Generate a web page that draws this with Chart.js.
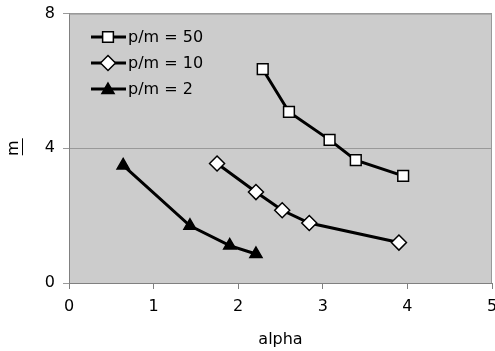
<!DOCTYPE html>
<html>
<head>
<meta charset="utf-8">
<script src="https://cdn.jsdelivr.net/npm/chart.js@4.4.0/dist/chart.umd.min.js"></script>
<style>
  html, body { margin: 0; padding: 0; background: #fff; }
  #wrap { width: 495px; height: 351px; overflow: hidden; position: relative; }
  #chart { position: absolute; left: 0; top: -4px; }
</style>
</head>
<body>
<div id="wrap"><canvas id="chart" width="512" height="355"></canvas></div>
<script>
// series labels
const seriesNames = ['p/m = 50', 'p/m = 10', 'p/m = 2'];

// p/m = 50 (squares)
const alpha50 = [2.29, 2.60, 3.08, 3.39, 3.95];
const m50 = [6.35, 5.08, 4.25, 3.65, 3.18];

// p/m = 10 (diamonds)
const alpha10 = [1.75, 2.21, 2.52, 2.84, 3.90];
const m10 = [3.55, 2.70, 2.16, 1.78, 1.20];

// p/m = 2 (triangles)
const alpha2 = [0.64, 1.43, 1.90, 2.21];
const m2 = [3.49, 1.70, 1.11, 0.86];

// axis ticks
const xTicks = [0, 1, 2, 3, 4, 5];
const yTicks = [0, 4, 8];

const FONT = 'DejaVu Sans, Verdana, sans-serif';

function toPoints(xs, ys) {
    return xs.map((x, i) => ({ x: x, y: ys[i] }));
}

const markerStyles = [
    { pointStyle: 'rect', radius: 7.6, fill: '#ffffff' },
    { pointStyle: 'rectRot', radius: 7.5, fill: '#ffffff' },
    { pointStyle: 'triangle', radius: 7, fill: '#000000' }
];

const seriesData = [toPoints(alpha50, m50), toPoints(alpha10, m10), toPoints(alpha2, m2)];

const datasets = seriesData.map((pts, i) => ({
    label: seriesNames[i],
    data: pts,
    showLine: true,
    borderColor: '#000000',
    borderWidth: 3,
    pointStyle: markerStyles[i].pointStyle,
    pointRadius: markerStyles[i].radius,
    pointBackgroundColor: markerStyles[i].fill,
    pointBorderColor: '#000000',
    pointBorderWidth: 1.5
}));

// gray plot area + frame
const plotBackground = {
    id: 'plotBackground',
    beforeDraw(chart) {
        const { ctx, chartArea: a } = chart;
        ctx.save();
        ctx.fillStyle = '#cccccc';
        ctx.fillRect(a.left, a.top, a.right - a.left, a.bottom - a.top);
        ctx.restore();
    },
    beforeDatasetsDraw(chart) {
        const { ctx, chartArea: a } = chart;
        ctx.save();
        ctx.strokeStyle = '#999999';
        ctx.lineWidth = 1;
        ctx.beginPath();
        ctx.moveTo(a.left, a.top + 0.5);
        ctx.lineTo(a.right - 0.5, a.top + 0.5);
        ctx.lineTo(a.right - 0.5, a.bottom);
        ctx.stroke();
        ctx.restore();
    },
    afterDraw(chart) {
        // underline of the rotated "m" axis title
        const { ctx } = chart;
        const y = chart.scales.y;
        const cy = (y.top + y.bottom) / 2;
        ctx.save();
        ctx.strokeStyle = '#000';
        ctx.lineWidth = 1;
        ctx.beginPath();
        ctx.moveTo(22.5, cy - 10);
        ctx.lineTo(22.5, cy + 7);
        ctx.stroke();
        ctx.restore();
    }
};

// legend drawn inside the plot, top-left (canvas is shifted up by 4px)
const innerLegend = {
    id: 'innerLegend',
    afterDatasetsDraw(chart) {
        const { ctx } = chart;
        const x0 = 91, x1 = 126, xm = 108, xt = 128;
        const rows = [41, 67, 93];
        ctx.save();
        chart.data.datasets.forEach((ds, i) => {
            const y = rows[i];
            ctx.strokeStyle = '#000';
            ctx.lineWidth = 3;
            ctx.beginPath();
            ctx.moveTo(x0, y);
            ctx.lineTo(x1, y);
            ctx.stroke();
            ctx.fillStyle = ds.pointBackgroundColor;
            ctx.strokeStyle = '#000';
            ctx.lineWidth = 1.5;
            Chart.helpers.drawPoint(ctx, {
                pointStyle: ds.pointStyle,
                radius: ds.pointRadius,
                rotation: 0,
                borderWidth: 1.5
            }, xm, y + (ds.pointStyle === 'triangle' ? 1 : 0));
            ctx.fillStyle = '#000';
            ctx.font = '16px ' + FONT;
            ctx.textBaseline = 'middle';
            ctx.textAlign = 'left';
            ctx.fillText(ds.label, xt, y + 1);
        });
        ctx.restore();
    }
};

new Chart(document.getElementById('chart'), {
    type: 'scatter',
    data: { datasets: datasets },
    options: {
        responsive: false,
        animation: false,
        devicePixelRatio: 1,
        layout: { padding: { top: 14, right: 20, bottom: 0, left: 0 } },
        plugins: {
            legend: { display: false },
            tooltip: { enabled: false }
        },
        scales: {
            x: {
                type: 'linear',
                min: 0,
                max: 5,
                afterBuildTicks: (scale) => { scale.ticks = xTicks.map(v => ({ value: v })); },
                afterFit: (scale) => { scale.height = 68; },
                ticks: { color: '#000', font: { family: FONT, size: 16 }, padding: 8 },
                grid: { drawOnChartArea: false, color: '#808080', tickLength: 6 },
                border: { color: '#808080', width: 1 },
                title: {
                    display: true,
                    text: 'alpha',
                    color: '#000',
                    font: { family: FONT, size: 16 },
                    padding: { top: 0, bottom: 2 }
                }
            },
            y: {
                type: 'linear',
                min: 0,
                max: 8,
                afterBuildTicks: (scale) => { scale.ticks = yTicks.map(v => ({ value: v })); },
                afterFit: (scale) => { scale.width = 69; },
                ticks: { color: '#000', font: { family: FONT, size: 16 }, padding: 8 },
                grid: { color: '#999999', tickLength: 6 },
                border: { color: '#808080', width: 1 },
                title: {
                    display: true,
                    text: 'm',
                    color: '#000',
                    font: { family: FONT, size: 16 },
                    padding: { top: 4, bottom: 4 }
                }
            }
        }
    },
    plugins: [plotBackground, innerLegend]
});
</script>
</body>
</html>
